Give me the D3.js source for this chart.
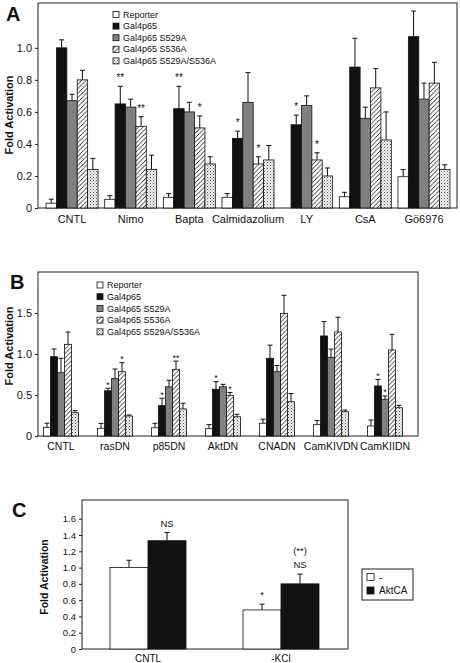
<!DOCTYPE html>
<html><head><meta charset="utf-8">
<script src="https://cdn.jsdelivr.net/npm/d3@7"></script>
<style>
body{margin:0;background:#fff}
text{font-family:"Liberation Sans",Arial,Helvetica,sans-serif;fill:#111}
</style>
</head><body>
<svg id="chart" width="460" height="663"></svg>
<script>
// ---------- DATA ----------
const seriesAB = ["Reporter","Gal4p65","Gal4p65 S529A","Gal4p65 S536A","Gal4p65 S529A/S536A"];

// Panel A
const catsA = ["CNTL","Nimo","Bapta","Calmidazolium","LY","CsA","Gö6976"];
const reporterA     = [0.03, 0.054, 0.067, 0.067, null, 0.07, 0.195];
const reporterAErr  = [0.025,0.023, 0.023, 0.023, 0,    0.028,0.045];
const gal4p65A      = [1.0,  0.65,  0.62,  0.435, 0.52, 0.88, 1.07];
const gal4p65AErr   = [0.05, 0.11,  0.14,  0.045, 0.06, 0.18, 0.16];
const s529aA        = [0.67, 0.63,  0.60,  0.66,  0.64, 0.56, 0.68];
const s529aAErr     = [0.04, 0.05,  0.06,  0.185, 0.06, 0.07, 0.10];
const s536aA        = [0.80, 0.51,  0.50,  0.275, 0.30, 0.75, 0.78];
const s536aAErr     = [0.06, 0.06,  0.075, 0.045, 0.045,0.12, 0.13];
const doubleA       = [0.24, 0.24,  0.275, 0.30,  0.20, 0.425,0.24];
const doubleAErr    = [0.07, 0.09,  0.045, 0.09,  0.05, 0.175,0.03];
const ticksA = [0, 0.2, 0.4, 0.6, 0.8, 1.0];
const starsA = [
  {cat:"Nimo", s:1, t:"**"}, {cat:"Nimo", s:3, t:"**"},
  {cat:"Bapta", s:1, t:"**"}, {cat:"Bapta", s:3, t:"*"},
  {cat:"Calmidazolium", s:1, t:"*"}, {cat:"Calmidazolium", s:3, t:"*"},
  {cat:"LY", s:1, t:"*"}, {cat:"LY", s:3, t:"*"}
];

// Panel B
const catsB = ["CNTL","rasDN","p85DN","AktDN","CNADN","CamKIVDN","CamKIIDN"];
const reporterB     = [0.106,0.094,0.10, 0.089,0.155,0.138,0.122];
const reporterBErr  = [0.05, 0.06, 0.055,0.05, 0.05, 0.05, 0.073];
const gal4p65B      = [0.967,0.552,0.37, 0.57, 0.948,1.22, 0.61];
const gal4p65BErr   = [0.094,0.03, 0.09, 0.092,0.16, 0.175,0.08];
const s529aB        = [0.772,0.699,0.60, 0.60, 0.784,0.96, 0.448];
const s529aBErr     = [0.176,0.118,0.08, 0.03, 0.075,0.10, 0.04];
const s536aB        = [1.118,0.784,0.813,0.496,1.496,1.268,1.049];
const s536aBErr     = [0.15, 0.11, 0.10, 0.035,0.22, 0.18, 0.19];
const doubleB       = [0.284,0.244,0.33, 0.235,0.418,0.296,0.345];
const doubleBErr    = [0.025,0.012,0.07, 0.03, 0.10, 0.02, 0.03];
const ticksB = [0, 0.5, 1.0, 1.5];
const starsB = [
  {cat:"rasDN", s:1, t:"*"}, {cat:"rasDN", s:3, t:"*"},
  {cat:"p85DN", s:1, t:"*"}, {cat:"p85DN", s:3, t:"**"},
  {cat:"AktDN", s:1, t:"*"}, {cat:"AktDN", s:3, t:"*"},
  {cat:"CamKIIDN", s:1, t:"*"}, {cat:"CamKIIDN", s:2, t:"*"}
];

// Panel C
const catsC = ["CNTL","-KCl"];
const seriesC = ["-","AktCA"];
const minusC    = [1.0, 0.48];
const minusCErr = [0.09,0.07];
const aktC      = [1.33,0.80];
const aktCErr   = [0.10,0.12];
const ticksC = [0,0.2,0.4,0.6,0.8,1.0,1.2,1.4,1.6];
const starsC = [
  {cat:"CNTL", s:1, t:"NS", level:0},
  {cat:"-KCl", s:0, t:"*", level:0},
  {cat:"-KCl", s:1, t:"NS", level:0},
  {cat:"-KCl", s:1, t:"(**)", level:1}
];

// ---------- DRAWING ----------
const svg = d3.select("#chart");
const defs = svg.append("defs");
const hatch = defs.append("pattern").attr("id","hatch").attr("patternUnits","userSpaceOnUse")
  .attr("width",4.5).attr("height",4.5);
hatch.append("rect").attr("width",4.5).attr("height",4.5).attr("fill","#fff");
hatch.append("path").attr("d","M0,4.5 L4.5,0 M-1,1 L1,-1 M3.5,5.5 L5.5,3.5")
  .attr("stroke","#111").attr("stroke-width",0.9);
const stip = defs.append("pattern").attr("id","stip").attr("patternUnits","userSpaceOnUse")
  .attr("width",3).attr("height",3);
stip.append("rect").attr("width",3).attr("height",3).attr("fill","#f4f4f4");
stip.append("rect").attr("x",0).attr("y",0).attr("width",1).attr("height",1).attr("fill","#555");
stip.append("rect").attr("x",1.5).attr("y",1.5).attr("width",1).attr("height",1).attr("fill","#888");

const fillsAB = ["#fff","#111","#808080","url(#hatch)","url(#stip)"];
const fillsC = ["#fff","#111"];
const fmt = d => d === 0 ? "0" : d3.format(".1f")(d);

function panel(o) {
  const g = svg.append("g");
  const y = d3.scaleLinear().domain(o.yDomain).range([o.bottom, o.top]);
  const x0 = d3.scaleBand().domain(o.cats).range(o.xRange).padding(0);
  const bw = x0.bandwidth();
  const x1 = d3.scaleBand().domain(d3.range(o.series.length))
    .range([(bw - o.groupW) / 2, (bw + o.groupW) / 2]).padding(0);

  // frame
  g.append("rect").attr("x", o.frame[0]).attr("y", o.top)
    .attr("width", o.frame[1] - o.frame[0]).attr("height", o.bottom - o.top)
    .attr("fill", "none").attr("stroke", "#222").attr("stroke-width", 1);

  // bars
  const recs = [];
  o.values.forEach((arr, si) => arr.forEach((v, ci) => {
    if (v == null) return;
    recs.push({si, ci, v, e: o.errors[si][ci]});
  }));
  const bg = g.append("g");
  const cx = d => x0(o.cats[d.ci]) + x1(d.si) + x1.bandwidth() / 2;
  bg.selectAll("line.err").data(recs).join("line").attr("class", "err")
    .attr("x1", cx).attr("x2", cx)
    .attr("y1", d => y(d.v)).attr("y2", d => y(d.v + d.e))
    .attr("stroke", "#111").attr("stroke-width", 1);
  bg.selectAll("line.cap").data(recs).join("line").attr("class", "cap")
    .attr("x1", d => cx(d) - o.cap).attr("x2", d => cx(d) + o.cap)
    .attr("y1", d => y(d.v + d.e)).attr("y2", d => y(d.v + d.e))
    .attr("stroke", "#111").attr("stroke-width", 1);
  bg.selectAll("rect.bar").data(recs).join("rect").attr("class", "bar")
    .attr("x", d => x0(o.cats[d.ci]) + x1(d.si))
    .attr("y", d => y(d.v))
    .attr("width", x1.bandwidth())
    .attr("height", d => y(0) - y(d.v))
    .attr("fill", d => o.fills[d.si])
    .attr("stroke", "#111").attr("stroke-width", 0.8);

  // axis
  const ax = g.append("g").attr("transform", `translate(${o.frame[0]},0)`)
    .call(d3.axisLeft(y).tickValues(o.ticks).tickFormat(fmt).tickSize(3).tickPadding(3));
  ax.select(".domain").remove();
  ax.selectAll("line").attr("stroke", "#222");
  ax.selectAll("text").attr("font-size", o.tickFont)
    .attr("font-family", '"Liberation Sans",Arial,sans-serif').attr("fill", "#111");

  // category labels
  g.selectAll("text.cat").data(o.cats).join("text").attr("class", "cat")
    .attr("x", d => x0(d) + bw / 2).attr("y", o.catY)
    .attr("text-anchor", "middle").attr("font-size", o.catFont).attr("fill", "#111").text(d => d);

  // y title
  g.append("text").attr("transform", `translate(${o.titleX},${o.titleY}) rotate(-90)`)
    .attr("text-anchor", "middle").attr("font-size", o.titleFont).attr("font-weight", "bold")
    .attr("fill", "#111").text("Fold Activation");

  // letter
  g.append("text").attr("x", o.letter[1]).attr("y", o.letter[2])
    .attr("font-size", 20).attr("font-weight", "bold").attr("fill", "#111").text(o.letter[0]);

  // significance marks
  g.selectAll("text.star").data(o.stars).join("text").attr("class", "star")
    .attr("x", d => x0(d.cat) + x1(d.s) + x1.bandwidth() / 2)
    .attr("y", d => {
      const ci = o.cats.indexOf(d.cat);
      return y(o.values[d.s][ci] + o.errors[d.s][ci]) - o.starGap - (d.level || 0) * 14.5;
    })
    .attr("text-anchor", "middle").attr("font-size", o.starFont).attr("fill", "#111").text(d => d.t);

  // legend
  if (o.legend) {
    const L = o.legend;
    const lg = g.append("g");
    if (L.box) {
      lg.append("rect").attr("x", L.box[0]).attr("y", L.box[1]).attr("width", L.box[2]).attr("height", L.box[3])
        .attr("fill", "#fff").attr("stroke", "#222").attr("stroke-width", 1);
    }
    o.series.forEach((s, i) => {
      const cy = L.y0 + i * L.dy;
      lg.append("rect").attr("x", L.x).attr("y", cy - L.size / 2).attr("width", L.size).attr("height", L.size)
        .attr("fill", o.fills[i]).attr("stroke", "#111").attr("stroke-width", 0.8);
      lg.append("text").attr("x", L.tx).attr("y", cy).attr("dy", "0.35em")
        .attr("font-size", L.font).attr("fill", "#111").text(s);
    });
  }
}

panel({
  cats: catsA, series: seriesAB, fills: fillsAB,
  values: [reporterA, gal4p65A, s529aA, s536aA, doubleA],
  errors: [reporterAErr, gal4p65AErr, s529aAErr, s536aAErr, doubleAErr],
  yDomain: [0, 1.28], top: 3, bottom: 208, frame: [38, 457],
  xRange: [42.7, 453.3], groupW: 52, cap: 2.5,
  ticks: ticksA, tickFont: 11, catY: 223, catFont: 11,
  titleX: 13, titleY: 115, titleFont: 11, letter: ["A", 6, 21],
  stars: starsA, starGap: 4.8, starFont: 10,
  legend: {x: 113, tx: 123, y0: 14.5, dy: 11.6, size: 6, font: 9}
});

panel({
  cats: catsB, series: seriesAB, fills: fillsAB,
  values: [reporterB, gal4p65B, s529aB, s536aB, doubleB],
  errors: [reporterBErr, gal4p65BErr, s529aBErr, s536aBErr, doubleBErr],
  yDomain: [0, 2], top: 272, bottom: 436, frame: [38, 418],
  xRange: [34, 412], groupW: 35, cap: 2.5,
  ticks: ticksB, tickFont: 11, catY: 450, catFont: 10.5,
  titleX: 13, titleY: 346, titleFont: 11, letter: ["B", 10, 289],
  stars: starsB, starGap: 0.5, starFont: 9,
  legend: {x: 97, tx: 107, y0: 285, dy: 11.7, size: 6, font: 9}
});

panel({
  cats: catsC, series: seriesC, fills: fillsC,
  values: [minusC, aktC], errors: [minusCErr, aktCErr],
  yDomain: [0, 1.83], top: 500, bottom: 649, frame: [82, 348],
  xRange: [81.5, 347.5], groupW: 76, cap: 2.5,
  ticks: ticksC, tickFont: 9.5, catY: 662, catFont: 10,
  titleX: 48, titleY: 577, titleFont: 10.5, letter: ["C", 12, 517],
  stars: starsC, starGap: 6, starFont: 9.5,
  legend: {box: [362, 569, 51, 31], x: 367, tx: 379, y0: 577, dy: 13.5, size: 7, font: 10}
});
</script>
</body></html>
